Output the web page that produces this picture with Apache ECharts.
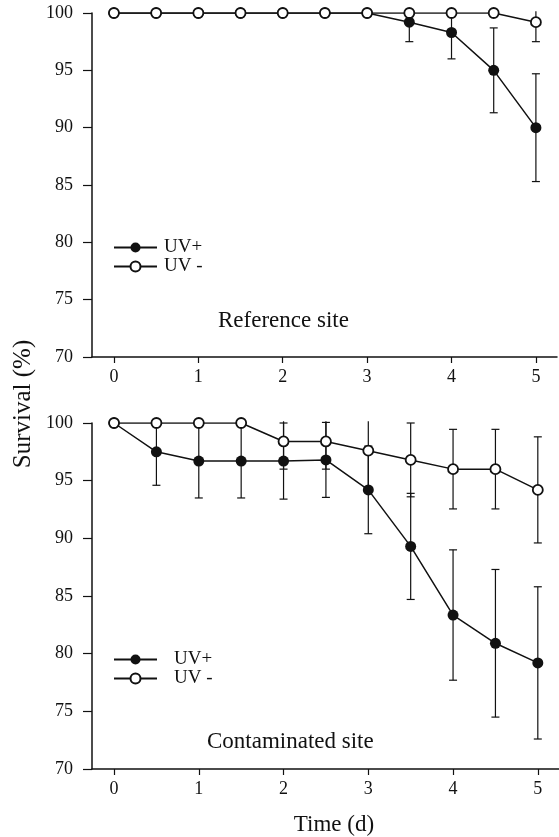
<!DOCTYPE html>
<html>
<head>
<meta charset="utf-8">
<script src="https://cdn.jsdelivr.net/npm/echarts@6/dist/echarts.min.js"></script>
<style>
html,body{margin:0;padding:0;background:#fff;}
#c{width:559px;height:837px;}
</style>
</head>
<body>
<div id="c"></div>
<script>
// ---- data ----
const days = [0, 0.5, 1, 1.5, 2, 2.5, 3, 3.5, 4, 4.5, 5];
const xTicks = [0, 1, 2, 3, 4, 5];
const yTicks = [70, 75, 80, 85, 90, 95, 100];

const refUVplus     = [100, 100, 100, 100, 100, 100, 100, 99.2, 98.3, 95.0, 90.0];
const refUVplusErr  = [0, 0, 0, 0, 0, 0, 0, 1.7, 2.3, 3.7, 4.7];
const refUVminus    = [100, 100, 100, 100, 100, 100, 100, 100, 100, 100, 99.2];
const refUVminusErr = [0, 0, 0, 0, 0, 0, 0, 0, 0, 0, 1.7];

const conUVplus     = [100, 97.5, 96.7, 96.7, 96.7, 96.8, 94.2, 89.3, 83.35, 80.9, 79.2];
const conUVplusErr  = [0, 2.9, 3.2, 3.2, 3.3, 3.25, 3.8, 4.6, 5.65, 6.4, 6.6];
const conUVminus    = [100, 100, 100, 100, 98.4, 98.4, 97.6, 96.8, 96.0, 96.0, 94.2];
const conUVminusErr = [0, 0, 0, 0, 2.4, 2.4, 3.4, 3.2, 3.45, 3.45, 4.6];

const panelTitles = ['Reference site', 'Contaminated site'];
const seriesNames = ['UV+', 'UV -'];

// ---- chart ----
const FONT = '"Liberation Serif", "DejaVu Serif", serif';
const INK = '#111';
const Y_CLIP = 100.15;

function pairs(ys) { return days.map((d, i) => [d, ys[i]]); }
function errData(ys, es) { return days.map((d, i) => [d, ys[i], es[i]]); }

function errSeries(ys, es, gi) {
  return {
    type: 'custom',
    xAxisIndex: gi, yAxisIndex: gi,
    clip: false,
    silent: true,
    z: 1,
    encode: { x: 0, y: 1 },
    data: errData(ys, es),
    renderItem: function (params, api) {
      const x = api.value(0), y = api.value(1), e = api.value(2);
      if (!e) return null;
      const hi = y + e, lo = y - e;
      const hiC = Math.min(hi, Y_CLIP);
      const pTop = api.coord([x, hiC]);
      const pBot = api.coord([x, lo]);
      const cw = 4;
      const st = { stroke: INK, lineWidth: 1.2 };
      const children = [
        { type: 'line', shape: { x1: pTop[0], y1: pTop[1], x2: pBot[0], y2: pBot[1] }, style: st },
        { type: 'line', shape: { x1: pBot[0] - cw, y1: pBot[1], x2: pBot[0] + cw, y2: pBot[1] }, style: st }
      ];
      if (hi <= Y_CLIP) {
        children.push({ type: 'line', shape: { x1: pTop[0] - cw, y1: pTop[1], x2: pTop[0] + cw, y2: pTop[1] }, style: st });
      }
      return { type: 'group', children: children };
    }
  };
}

function lineSeries(name, ys, gi, filled, z) {
  return {
    type: 'line',
    name: name,
    xAxisIndex: gi, yAxisIndex: gi,
    data: pairs(ys),
    symbol: 'circle',
    symbolSize: filled ? 11 : 10,
    showAllSymbol: true,
    z: z,
    lineStyle: { color: INK, width: 1.5 },
    itemStyle: { color: filled ? INK : '#fff', borderColor: INK, borderWidth: filled ? 0 : 1.8 },
    emphasis: { disabled: true },
    animation: false
  };
}

function xAxis(gi) {
  return {
    type: 'value', gridIndex: gi, min: -0.26, max: 5.25,
    axisLine: { show: true, onZero: false, lineStyle: { color: INK, width: 1.5 } },
    axisTick: { show: true, customValues: xTicks, length: 6, lineStyle: { color: INK, width: 1.2 } },
    axisLabel: { show: true, customValues: xTicks, margin: 11, fontFamily: FONT, fontSize: 18, color: INK },
    splitLine: { show: false }
  };
}
function yAxis(gi) {
  return {
    type: 'value', gridIndex: gi, min: 70, max: 100, interval: 5,
    axisLine: { show: true, onZero: false, lineStyle: { color: INK, width: 1.5 } },
    axisTick: { show: true, length: 9, lineStyle: { color: INK, width: 1.2 } },
    axisLabel: { show: true, margin: 19, fontFamily: FONT, fontSize: 18, color: INK },
    splitLine: { show: false }
  };
}

function legend(top, textPad) {
  return {
    orient: 'vertical', left: 113, top: top,
    padding: 0,
    data: seriesNames,
    itemWidth: 43, itemHeight: 12.5, itemGap: 0,
    selectedMode: false,
    textStyle: { fontFamily: FONT, fontSize: 19, color: INK, lineHeight: 18, padding: [0, 0, 0, textPad] }
  };
}

const chart = echarts.init(document.getElementById('c'), null, { renderer: 'canvas' });
chart.setOption({
  backgroundColor: '#fff',
  animation: false,
  grid: [
    { left: 92, top: 13, width: 465, height: 344 },
    { left: 92, top: 423, width: 467, height: 346 }
  ],
  xAxis: [xAxis(0), xAxis(1)],
  yAxis: [yAxis(0), yAxis(1)],
  legend: [legend(238, 2), legend(650, 12)],
  title: [
    { text: panelTitles[0], left: 218, top: 309, textStyle: { fontFamily: FONT, fontSize: 23, fontWeight: 'normal', color: INK }, padding: 0 },
    { text: panelTitles[1], left: 207, top: 730, textStyle: { fontFamily: FONT, fontSize: 23, fontWeight: 'normal', color: INK }, padding: 0 }
  ],
  graphic: [
    { type: 'text', x: 23, y: 404, rotation: Math.PI / 2,
      style: { text: 'Survival (%)', font: '25px ' + FONT, fill: INK, textAlign: 'center', textVerticalAlign: 'middle' } },
    { type: 'text', x: 334, y: 825,
      style: { text: 'Time (d)', font: '23px ' + FONT, fill: INK, textAlign: 'center', textVerticalAlign: 'middle' } }
  ],
  series: [
    errSeries(refUVplus, refUVplusErr, 0),
    errSeries(refUVminus, refUVminusErr, 0),
    lineSeries(seriesNames[0], refUVplus, 0, true, 2),
    lineSeries(seriesNames[1], refUVminus, 0, false, 3),
    errSeries(conUVplus, conUVplusErr, 1),
    errSeries(conUVminus, conUVminusErr, 1),
    lineSeries(seriesNames[0], conUVplus, 1, true, 2),
    lineSeries(seriesNames[1], conUVminus, 1, false, 3)
  ]
});
</script>
</body>
</html>
